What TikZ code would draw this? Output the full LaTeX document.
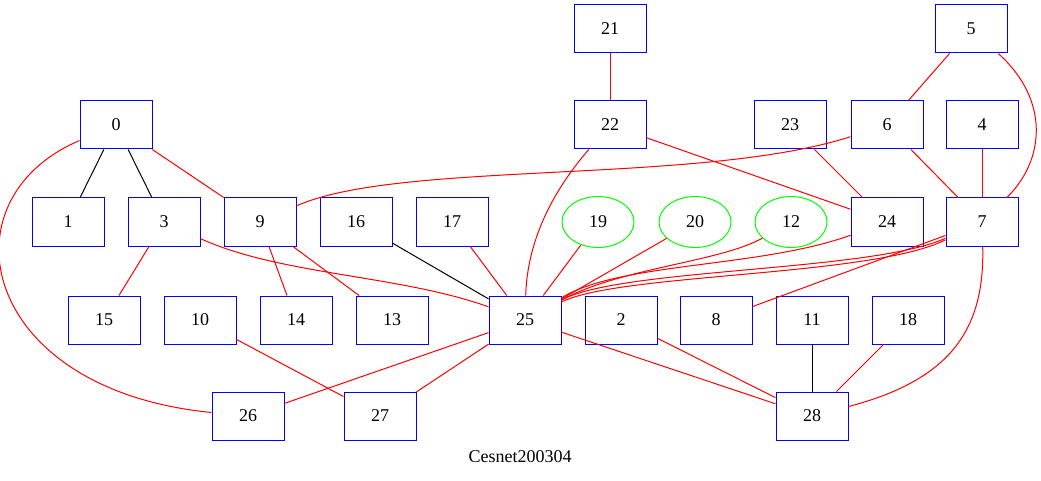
\documentclass[tikz,border=0pt]{standalone}
\usepackage{fontspec}
\setmainfont{Liberation Serif}
\usetikzlibrary{shapes}

\begin{document}
\begin{tikzpicture}[x=1pt,y=-1pt,every node/.style={font=\fontsize{18}{20}\selectfont},
	box/.style={rectangle,draw=blue,line width=1pt,minimum width=72pt,minimum height=48pt,inner sep=0pt},
	oval/.style={ellipse,draw=green,line width=1pt,minimum width=72pt,minimum height=51pt,inner sep=0pt},
	link/.style={red,line width=1pt},
	plain/.style={black,line width=1pt}
	]
	\useasboundingbox (0,0) rectangle (1041,481);
	% rank 1
	\node[box] (n21) at (610,29) {21};
	\node[box] (n5) at (971,29) {5};
	% rank 2
	\node[box] (n0) at (116,125) {0};
	\node[box] (n22) at (610,125) {22};
	\node[box] (n23) at (790,125) {23};
	\node[box] (n6) at (887,125) {6};
	\node[box] (n4) at (982,125) {4};
	% rank 3
	\node[box] (n1) at (68,222) {1};
	\node[box] (n3) at (164,222) {3};
	\node[box] (n9) at (260,222) {9};
	\node[box] (n16) at (356,222) {16};
	\node[box] (n17) at (452,222) {17};
	\node[oval] (n19) at (598,222) {19};
	\node[oval] (n20) at (695,222) {20};
	\node[oval] (n12) at (791,222) {12};
	\node[box] (n24) at (887,222) {24};
	\node[box] (n7) at (982,222) {7};
	% rank 4
	\node[box] (n15) at (104,320) {15};
	\node[box] (n10) at (200,320) {10};
	\node[box] (n14) at (296,320) {14};
	\node[box] (n13) at (392,320) {13};
	\node[box] (n25) at (525,320) {25};
	\node[box] (n2) at (621,320) {2};
	\node[box] (n8) at (716,320) {8};
	\node[box] (n11) at (812,320) {11};
	\node[box] (n18) at (908,320) {18};
	% rank 5
	\node[box] (n26) at (248,416) {26};
	\node[box] (n27) at (380,416) {27};
	\node[box] (n28) at (812,416) {28};
	\node (title) at (520,457) {Cesnet200304};

	% black links
	\draw[plain] (n0) -- (n1);
	\draw[plain] (n0) -- (n3);
	\draw[plain] (n16) -- (n25);
	\draw[plain] (n11) -- (n28);

	% red links
	\draw[link] (n0) -- (n9);
	\draw[link] (n0) .. controls (-60,200) and (-20,390) .. (n26);
	\draw[link] (n3) -- (n15);
	\draw[link] (n3) .. controls (280,275) and (400,275) .. (n25);
	\draw[link] (n9) -- (n14);
	\draw[link] (n9) -- (n13);
	\draw[link] (n9) .. controls (400,160) and (700,185) .. (n6);
	\draw[link] (n17) -- (n25);
	\draw[link] (n19) -- (n25);
	\draw[link] (n20) -- (n25);
	\draw[link] (n12) .. controls (720,262) and (620,268) .. (n25);
	\draw[link] (n24) .. controls (760,268) and (620,262) .. (n25);
	\draw[link] (n7) .. controls (870,272) and (620,268) .. (n25);
	\draw[link] (n7) .. controls (870,277) and (620,273) .. (n25);
	\draw[link] (n7) -- (n8);
	\draw[link] (n7) .. controls (985,330) and (950,380) .. (n28);
	\draw[link] (n21) -- (n22);
	\draw[link] (n22) .. controls (545,200) and (527,250) .. (n25);
	\draw[link] (n22) -- (n24);
	\draw[link] (n23) -- (n24);
	\draw[link] (n5) -- (n6);
	\draw[link] (n5) .. controls (1050,100) and (1045,160) .. (n7);
	\draw[link] (n6) -- (n7);
	\draw[link] (n4) -- (n7);
	\draw[link] (n10) -- (n27);
	\draw[link] (n25) -- (n26);
	\draw[link] (n25) -- (n27);
	\draw[link] (n25) -- (n28);
	\draw[link] (n2) -- (n28);
	\draw[link] (n18) -- (n28);
\end{tikzpicture}
\end{document}
